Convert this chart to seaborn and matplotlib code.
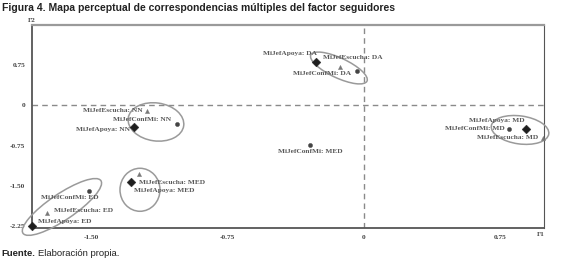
import matplotlib
matplotlib.use("Agg")
import matplotlib.pyplot as plt
import matplotlib.transforms as mtransforms
from matplotlib.patches import Ellipse
import seaborn as sns
import pandas as pd

# ---------------- data ----------------
labels = ["MiJefApoya: DA", "MiJefEscucha: DA", "MiJefConfMi: DA",
          "MiJefEscucha: NN", "MiJefConfMi: NN", "MiJefApoya: NN",
          "MiJefConfMi: MED", "MiJefEscucha: MED", "MiJefApoya: MED",
          "MiJefConfMi: ED", "MiJefEscucha: ED", "MiJefApoya: ED",
          "MiJefConfMi: MD", "MiJefApoya: MD", "MiJefEscucha: MD"]
f1 = [-0.264, -0.132, -0.039,
      -1.196, -1.030, -1.267,
      -0.298, -1.240, -1.284,
      -1.515, -1.747, -1.829,
      0.799, 0.893, 0.986]
f2 = [0.806, 0.713, 0.639,
      -0.106, -0.348, -0.404,
      -0.739, -1.279, -1.428,
      -1.596, -2.006, -2.248,
      -0.441, -0.441, -0.609]
variable = ["MiJefApoya", "MiJefEscucha", "MiJefConfMi",
            "MiJefEscucha", "MiJefConfMi", "MiJefApoya",
            "MiJefConfMi", "MiJefEscucha", "MiJefApoya",
            "MiJefConfMi", "MiJefEscucha", "MiJefApoya",
            "MiJefConfMi", "MiJefApoya", "MiJefEscucha"]
xticks = [-1.50, -0.75, 0, 0.75]
xticklabels = ["-1.50", "-0.75", "0", "0.75"]
yticks = [0.75, 0, -0.75, -1.50, -2.25]
yticklabels = ["0.75", "0", "-0.75", "-1.50", "-2.25"]

# label placement: (dx, dy in points, ha)
label_pos = [(1, 6, "right"), (-12, 7, "left"), (-4, -1.5, "right"),
             (-3, 0, "right"), (-4, 3, "right"), (-3, -1.5, "right"),
             (0, -5, "center"), (0, -6, "left"), (2, -6, "left"),
             (7, -4.5, "right"), (5, 1.5, "left"), (4, 3, "left"),
             (-3, 0, "right"), (-1, 6, "right"), (-3, 0, "right")]

# ellipses (centre in data units, width/height in pixels, angle)
ell_cx = [-0.138, -1.146, -1.234, -1.664, 0.860]
ell_cy = [0.694, -0.311, -1.575, -1.895, -0.460]
ell_w = [62, 56, 40, 94, 58]
ell_h = [20, 38, 43, 26, 28]
ell_ang = [-25, -8, 0, 34, -8]

df = pd.DataFrame({"F1": f1, "F2": f2, "var": variable, "label": labels})

# ---------------- figure ----------------
sns.set_style("white")
plt.rcParams["font.family"] = ["Liberation Sans", "DejaVu Sans"]

W, H = 572, 267
fig = plt.figure(figsize=(W / 100, H / 100), dpi=100)
ax = fig.add_axes([32 / W, 1 - 228 / H, (544 - 32) / W, (228 - 25) / H])

ax.axhline(0, color="#8a8a8a", lw=1.0, ls=(0, (4, 3)), zorder=1)
ax.axvline(0, color="#8a8a8a", lw=1.0, ls=(0, (4, 3)), zorder=1)

markers = {"MiJefApoya": "D", "MiJefEscucha": "^", "MiJefConfMi": "o"}
sizes_map = {"MiJefApoya": 20, "MiJefEscucha": 9, "MiJefConfMi": 9}
colors = {"MiJefApoya": "#1e1e1e", "MiJefEscucha": "#777777", "MiJefConfMi": "#444444"}
for v in ["MiJefApoya", "MiJefEscucha", "MiJefConfMi"]:
    sub = df[df["var"] == v]
    sns.scatterplot(data=sub, x="F1", y="F2", marker=markers[v], s=sizes_map[v],
                    color=colors[v], edgecolor=colors[v], linewidth=0.3,
                    ax=ax, zorder=4, clip_on=False, legend=False)

for i, lab in enumerate(labels):
    dx, dy, ha = label_pos[i]
    ax.annotate(lab, (f1[i], f2[i]), xytext=(dx, dy), textcoords="offset points",
                ha=ha, va="center", fontsize=5.3, fontweight="bold",
                family=["Liberation Serif", "DejaVu Serif"], color="#5a5a5a", zorder=5)

for cx, cy, w, h, a in zip(ell_cx, ell_cy, ell_w, ell_h, ell_ang):
    tr = fig.dpi_scale_trans + mtransforms.ScaledTranslation(cx, cy, ax.transData)
    e = Ellipse((0, 0), w / 100, h / 100, angle=a, transform=tr,
                fill=False, edgecolor="#9a9a9a", lw=1.1, zorder=3, clip_on=False)
    ax.add_patch(e)

ax.set_xlim(-1.829, 0.992)
ax.set_ylim(-2.287, 1.495)
ax.set_xticks(xticks)
ax.set_xticklabels(xticklabels)
ax.set_yticks(yticks)
ax.set_yticklabels(yticklabels)
ax.set_xlabel("")
ax.set_ylabel("")
ax.tick_params(axis="both", direction="out", length=3, width=0.8, color="#555555",
               labelsize=5.3, labelcolor="#444444", pad=2)
for t in ax.get_xticklabels() + ax.get_yticklabels():
    t.set_fontfamily(["Liberation Serif", "DejaVu Serif"])
    t.set_fontweight("bold")

for side in ["left", "bottom"]:
    ax.spines[side].set_color("#555555")
    ax.spines[side].set_linewidth(1.3)
ax.spines["top"].set_color("#9a9a9a")
ax.spines["top"].set_linewidth(1.6)
ax.spines["right"].set_color("#555555")
ax.spines["right"].set_linewidth(0.8)

fig.text(32 / W, 1 - 20 / H, "F2", fontsize=5, fontweight="bold",
         family=["Liberation Serif", "DejaVu Serif"], color="#444444", ha="center", va="center")
fig.text(541 / W, 1 - 234 / H, "F1", fontsize=5, fontweight="bold",
         family=["Liberation Serif", "DejaVu Serif"], color="#444444", ha="center", va="center")

fig.text(2 / W, 1 - 8 / H,
         "Figura 4. Mapa perceptual de correspondencias múltiples del factor seguidores",
         fontsize=7.5, fontweight="bold", color="#222222", ha="left", va="center")
t1 = fig.text(1 / W, 1 - 253 / H, "Fuente.", fontsize=6.8, fontweight="bold",
              color="#222222", ha="left", va="center")
renderer = fig.canvas.get_renderer()
bb = t1.get_window_extent(renderer=renderer)
fig.text((bb.x1 + 3) / W, 1 - 253 / H, "Elaboración propia.", fontsize=6.8,
         color="#222222", ha="left", va="center")

fig.savefig("out.png", dpi=100, facecolor="white")
